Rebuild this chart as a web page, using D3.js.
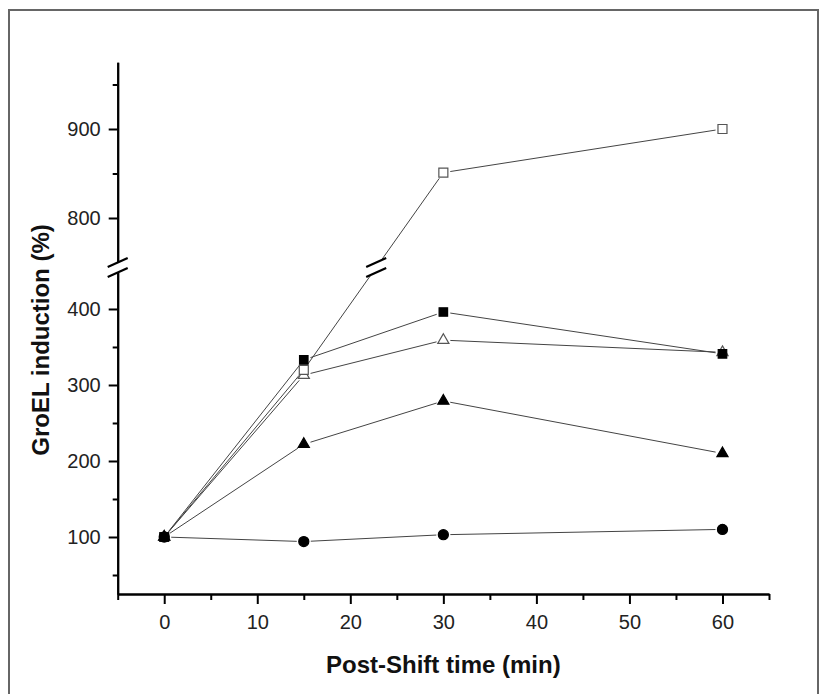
<!DOCTYPE html>
<html>
<head>
<meta charset="utf-8">
<script src="https://cdn.jsdelivr.net/npm/d3@7"></script>
<style>
  body { margin: 0; background: #fff; }
  svg { display: block; font-family: "Liberation Sans", Arial, sans-serif; }
</style>
</head>
<body>
<svg id="chart"></svg>
<script>
// data
var times = [0, 15, 30, 60];
var openSquare = [100, 320, 851, 900];
var filledSquare = [100, 333, 396, 341];
var openTriangle = [100, 313, 359, 343];
var filledTriangle = [100, 222, 279, 210];
var filledCircle = [100, 94, 103, 110];

var xMajor = [0, 10, 20, 30, 40, 50, 60];
var xMinor = [-5, 5, 15, 25, 35, 45, 55, 65];
var yLowMajor = [100, 200, 300, 400];
var yLowMinor = [50, 150, 250, 350];
var yHighMajor = [800, 900];
var yHighMinor = [850, 950];

var width = 824;
var height = 694;
var breakY = 267.5;

var svg = d3.select("#chart").attr("width", width).attr("height", height);

// outer frame
svg.append("rect")
  .attr("x", 9).attr("y", 10)
  .attr("width", 809).attr("height", 720)
  .attr("fill", "none").attr("stroke", "#666").attr("stroke-width", 2);

// scales, y axis is split in two pieces
var x = d3.scaleLinear().domain([-5, 65]).range([117.7, 769]);
var yLow = d3.scaleLinear().domain([25, 448]).range([594, 272.5]);
var yHigh = d3.scaleLinear().domain([750, 975]).range([262.5, 62.25]);
function yMap(v) { return v >= 700 ? yHigh(v) : yLow(v); }

function styleAxis(g) {
  g.selectAll("path, line").attr("stroke", "#000").attr("stroke-width", 2);
  g.selectAll("text").attr("font-size", 20).attr("fill", "#222")
    .attr("font-family", "'Liberation Sans', Arial, sans-serif");
}

// x axis
var gx = svg.append("g").attr("transform", "translate(0,594)");
gx.call(d3.axisBottom(x).tickValues(xMajor).tickSize(10).tickSizeOuter(0).tickPadding(11))
  .call(styleAxis);
svg.append("g").attr("transform", "translate(0,594)")
  .call(d3.axisBottom(x).tickValues(xMinor).tickSize(6).tickSizeOuter(0).tickFormat(""))
  .call(styleAxis);

// y axis, lower part
svg.append("g").attr("transform", "translate(117.7,0)")
  .call(d3.axisLeft(yLow).tickValues(yLowMajor).tickSize(9).tickSizeOuter(0).tickPadding(8))
  .call(styleAxis);
svg.append("g").attr("transform", "translate(117.7,0)")
  .call(d3.axisLeft(yLow).tickValues(yLowMinor).tickSize(5).tickSizeOuter(0).tickFormat(""))
  .call(styleAxis);

// y axis, upper part
svg.append("g").attr("transform", "translate(117.7,0)")
  .call(d3.axisLeft(yHigh).tickValues(yHighMajor).tickSize(9).tickSizeOuter(0).tickPadding(8))
  .call(styleAxis);
svg.append("g").attr("transform", "translate(117.7,0)")
  .call(d3.axisLeft(yHigh).tickValues(yHighMinor).tickSize(5).tickSizeOuter(0).tickFormat(""))
  .call(styleAxis);

// draws the "//" break symbol centred on cx, cy
function breakMark(cx, cy) {
  var g = svg.append("g");
  g.append("polygon")
    .attr("points", [[cx - 10, cy - 0.5], [cx + 10, cy - 9.5], [cx + 10, cy + 0.5], [cx - 10, cy + 9.5]].join(" "))
    .attr("fill", "#fff");
  [-5, 5].forEach(function (d) {
    g.append("line")
      .attr("x1", cx - 10).attr("y1", cy + d + 4.5)
      .attr("x2", cx + 10).attr("y2", cy + d - 4.5)
      .attr("stroke", "#000").attr("stroke-width", 2.2);
  });
}

// series, lines stop a few pixels short of each marker
var series = [
  { vals: openTriangle, shape: d3.symbolTriangle, size: 54, fill: "#fff" },
  { vals: openSquare, shape: d3.symbolSquare, size: 81, fill: "#fff" },
  { vals: filledTriangle, shape: d3.symbolTriangle, size: 54, fill: "#000" },
  { vals: filledCircle, shape: d3.symbolCircle, size: 80, fill: "#000" },
  { vals: filledSquare, shape: d3.symbolSquare, size: 72, fill: "#000" }
];

var gap = 7;
series.forEach(function (s) {
  var pts = s.vals.map(function (v, i) { return [x(times[i]), yMap(v)]; });
  for (var i = 0; i < pts.length - 1; i++) {
    var a = pts[i], b = pts[i + 1];
    var dx = b[0] - a[0], dy = b[1] - a[1];
    var len = Math.sqrt(dx * dx + dy * dy);
    var ux = dx / len, uy = dy / len;
    svg.append("line")
      .attr("x1", a[0] + ux * gap).attr("y1", a[1] + uy * gap)
      .attr("x2", b[0] - ux * gap).attr("y2", b[1] - uy * gap)
      .attr("stroke", "#444").attr("stroke-width", 1);
    // segment crossing the axis break gets its own break mark
    if ((a[1] - breakY) * (b[1] - breakY) < 0) {
      var t = (a[1] - breakY) / (a[1] - b[1]);
      breakMark(a[0] + t * dx, breakY);
    }
  }
});

series.forEach(function (s) {
  svg.append("g").selectAll("path")
    .data(s.vals)
    .enter()
    .append("path")
    .attr("transform", function (d, i) { return "translate(" + x(times[i]) + "," + yMap(d) + ")"; })
    .attr("d", d3.symbol().type(s.shape).size(s.size))
    .attr("fill", s.fill)
    .attr("stroke", s.fill === "#fff" ? "#555" : "#000")
    .attr("stroke-width", 1.2);
});

// axis break on the y axis
breakMark(117.7, breakY);

// axis titles
svg.append("text")
  .attr("x", x(30)).attr("y", 673)
  .attr("text-anchor", "middle")
  .attr("font-size", 24).attr("font-weight", "bold").attr("fill", "#111")
  .text("Post-Shift time (min)");

svg.append("text")
  .attr("transform", "translate(49,340) rotate(-90)")
  .attr("text-anchor", "middle")
  .attr("font-size", 24).attr("font-weight", "bold").attr("fill", "#111")
  .text("GroEL induction (%)");
</script>
</body>
</html>
